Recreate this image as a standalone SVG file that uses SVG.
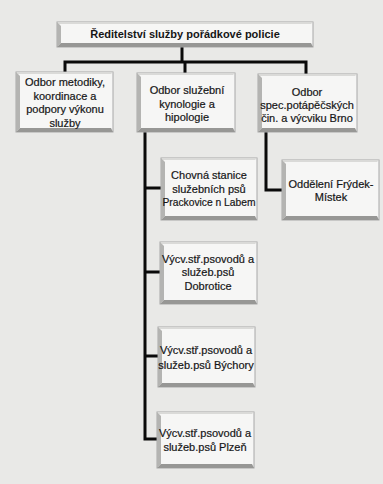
<svg xmlns="http://www.w3.org/2000/svg" width="383" height="484" viewBox="0 0 383 484">
<style>
.bg{fill:#e9e9e7}
.box{fill:#f6f6f5;stroke:#a8a8a8;stroke-width:1}
.bl{fill:#b4b4b2}
.bb{fill:#979795}
.bt{fill:#dadad8}
.t{font-family:"Liberation Sans",Arial,sans-serif;font-size:11px;fill:#151515;stroke:#151515;stroke-width:0.2;text-anchor:middle}
.title{font-weight:bold;stroke-width:0}
.conn{fill:none;stroke:#0a0a0a;stroke-width:3;stroke-linejoin:miter;stroke-linecap:square}
</style>
<rect class="bg" x="0" y="0" width="383" height="484"/>

<g id="connectors">
<path class="conn" d="M182,47 V62 M65,62 H306 M65,62 V72 M185,62 V73 M306,62 V74"/>
<path class="conn" d="M145,132 V439 H157 M145,188 H161 M145,272 H160 M145,356 H158"/>
<path class="conn" d="M266,132 V190 H282"/>
</g>

<g id="n-reditelstvi">
<rect class="box" x="57" y="22" width="256" height="25"/>
<polygon class="bt" points="57,22 313,22 311,24 59,24"/>
<polygon class="bl" points="57,22 61,26 61,43 57,47"/>
<polygon class="bb" points="57,47 61,43 311,43 313,47"/>
<text class="t title" x="185" y="38">Ředitelství služby pořádkové policie</text>
</g>

<g id="n-metodiky">
<rect class="box" x="16" y="72" width="97" height="60"/>
<polygon class="bt" points="16,72 113,72 111,74 18,74"/>
<polygon class="bl" points="16,72 20,76 20,128 16,132"/>
<polygon class="bb" points="16,132 20,128 111,128 113,132"/>
<text class="t" x="65" y="86">Odbor metodiky,</text>
<text class="t" x="65" y="99.5">koordinace a</text>
<text class="t" x="65" y="113">podpory výkonu</text>
<text class="t" x="65" y="126.5">služby</text>
</g>

<g id="n-kynologie">
<rect class="box" x="137" y="73" width="98" height="59"/>
<polygon class="bt" points="137,73 235,73 233,75 139,75"/>
<polygon class="bl" points="137,73 141,77 141,128 137,132"/>
<polygon class="bb" points="137,132 141,128 233,128 235,132"/>
<text class="t" x="187" y="94">Odbor služební</text>
<text class="t" x="187" y="107.5">kynologie a</text>
<text class="t" x="187" y="121">hipologie</text>
</g>

<g id="n-potapecskych">
<rect class="box" x="258" y="74" width="99" height="58"/>
<polygon class="bt" points="258,74 357,74 355,76 260,76"/>
<polygon class="bl" points="258,74 262,78 262,128 258,132"/>
<polygon class="bb" points="258,132 262,128 355,128 357,132"/>
<text class="t" x="307" y="96">Odbor</text>
<text class="t" x="307" y="108.5">spec.potápěčských</text>
<text class="t" x="307" y="122">čin. a výcviku Brno</text>
</g>

<g id="n-chovna">
<rect class="box" x="161" y="158" width="96" height="62"/>
<polygon class="bt" points="161,158 257,158 255,160 163,160"/>
<polygon class="bl" points="161,158 165,162 165,216 161,220"/>
<polygon class="bb" points="161,220 165,216 255,216 257,220"/>
<text class="t" x="209" y="179">Chovná stanice</text>
<text class="t" x="209" y="192.5">služebních psů</text>
<text class="t" x="209" y="206" textLength="93" lengthAdjust="spacingAndGlyphs">Prackovice n Labem</text>
</g>

<g id="n-frydek">
<rect class="box" x="282" y="160" width="97" height="60"/>
<polygon class="bt" points="282,160 379,160 377,162 284,162"/>
<polygon class="bl" points="282,160 286,164 286,216 282,220"/>
<polygon class="bb" points="282,220 286,216 377,216 379,220"/>
<text class="t" x="331" y="188">Oddělení Frýdek-</text>
<text class="t" x="331" y="201">Místek</text>
</g>

<g id="n-dobrotice">
<rect class="box" x="160" y="242" width="97" height="62"/>
<polygon class="bt" points="160,242 257,242 255,244 162,244"/>
<polygon class="bl" points="160,242 164,246 164,300 160,304"/>
<polygon class="bb" points="160,304 164,300 255,300 257,304"/>
<text class="t" x="208" y="263">Výcv.stř.psovodů a</text>
<text class="t" x="208" y="276">služeb.psů</text>
<text class="t" x="208" y="290">Dobrotice</text>
</g>

<g id="n-bychory">
<rect class="box" x="158" y="327" width="97" height="60"/>
<polygon class="bt" points="158,327 255,327 253,329 160,329"/>
<polygon class="bl" points="158,327 162,331 162,383 158,387"/>
<polygon class="bb" points="158,387 162,383 253,383 255,387"/>
<text class="t" x="206" y="354">Výcv.stř.psovodů a</text>
<text class="t" x="206" y="369">služeb.psů Býchory</text>
</g>

<g id="n-plzen">
<rect class="box" x="157" y="412" width="97" height="56"/>
<polygon class="bt" points="157,412 254,412 252,414 159,414"/>
<polygon class="bl" points="157,412 161,416 161,464 157,468"/>
<polygon class="bb" points="157,468 161,464 252,464 254,468"/>
<text class="t" x="205" y="437">Výcv.stř.psovodů a</text>
<text class="t" x="205" y="451">služeb.psů Plzeň</text>
</g>
</svg>
